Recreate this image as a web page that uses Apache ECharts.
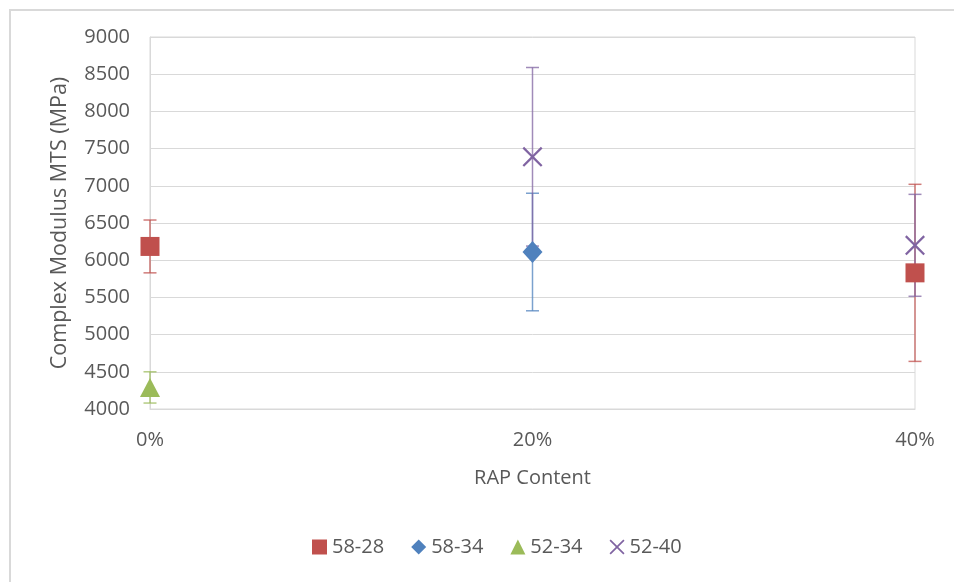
<!DOCTYPE html>
<html>
<head>
<meta charset="utf-8">
<script src="https://cdn.jsdelivr.net/npm/echarts@6/dist/echarts.min.js"></script>
<style>html,body{margin:0;padding:0;background:#fff;}#c{width:954px;height:582px;}</style>
</head>
<body>
<div id="c"></div>
<script>
const categories = ['0%', '20%', '40%'];
const yTicks = [4000, 4500, 5000, 5500, 6000, 6500, 7000, 7500, 8000, 8500, 9000];
const seriesNames = ['58-28', '58-34', '52-34', '52-40'];
const v5828 = [6185, null, 5830];
const e5828 = [355, null, 1190];
const v5834 = [null, 6110, null];
const e5834 = [null, 790, null];
const v5234 = [4290, null, null];
const e5234 = [210, null, null];
const v5240 = [null, 7390, 6200];
const e5240 = [null, 1200, 685];

const colors = ['#C0504D', '#4F81BD', '#9BBB59', '#8064A2'];
const values = [v5828, v5834, v5234, v5240];
const errors = [e5828, e5834, e5234, e5240];
const xSymbol = 'path://M1.6,0L10,8.4L18.4,0L20,1.6L11.6,10L20,18.4L18.4,20L10,11.6L1.6,20L0,18.4L8.4,10L0,1.6Z';
const symbols = ['rect', 'diamond', 'triangle', xSymbol];
const symbolSizes = [19, [20, 22], [20, 19], 20];
const FONT = 'Open Sans';
const TXT = '#595959';

const series = [];
values.forEach((vals, i) => {
  const errData = [];
  vals.forEach((v, k) => {
    if (v != null) errData.push([k, v - errors[i][k], v + errors[i][k]]);
  });
  series.push({
    type: 'custom',
    name: seriesNames[i] + ' err',
    data: errData,
    encode: { x: 0, y: [1, 2] },
    z: 2,
    silent: true,
    renderItem: function (params, api) {
      const lo = api.coord([api.value(0), api.value(1)]);
      const hi = api.coord([api.value(0), api.value(2)]);
      const hw = 6.5;
      const style = { stroke: colors[i], lineWidth: 1.5, opacity: 0.75 };
      return {
        type: 'group',
        children: [
          { type: 'line', shape: { x1: lo[0], y1: lo[1], x2: hi[0], y2: hi[1] }, style: style },
          { type: 'line', shape: { x1: lo[0] - hw, y1: lo[1], x2: lo[0] + hw, y2: lo[1] }, style: style },
          { type: 'line', shape: { x1: hi[0] - hw, y1: hi[1], x2: hi[0] + hw, y2: hi[1] }, style: style }
        ]
      };
    }
  });
});
values.forEach((vals, i) => {
  series.push({
    type: 'scatter',
    name: seriesNames[i],
    data: vals.map(v => (v == null ? '-' : v)),
    symbol: symbols[i],
    symbolSize: symbolSizes[i],
    itemStyle: { color: colors[i], opacity: 1 },
    z: 3 + i
  });
});

const chart = echarts.init(document.getElementById('c'));
chart.setOption({
  animation: false,
  backgroundColor: '#fff',
  textStyle: { fontFamily: FONT, color: TXT },
  graphic: [{
    type: 'rect',
    shape: { x: 10, y: 10, width: 1000, height: 1000 },
    style: { fill: 'none', stroke: '#d9d9d9', lineWidth: 2 },
    silent: true
  }],
  grid: { left: 150, right: 39, top: 37, bottom: 173, show: true, borderColor: '#d9d9d9', borderWidth: 1 },
  xAxis: {
    type: 'category',
    data: categories,
    boundaryGap: false,
    name: 'RAP Content',
    nameLocation: 'middle',
    nameGap: 59,
    nameTextStyle: { fontFamily: FONT, fontSize: 20, color: TXT },
    axisLine: { show: true, lineStyle: { color: '#d9d9d9' } },
    axisTick: { show: false },
    splitLine: { show: false },
    axisLabel: { fontFamily: FONT, fontSize: 20, color: TXT, margin: 21 }
  },
  yAxis: {
    type: 'value',
    min: yTicks[0],
    max: yTicks[yTicks.length - 1],
    interval: yTicks[1] - yTicks[0],
    name: 'Complex Modulus MTS (MPa)',
    nameLocation: 'middle',
    nameGap: 79,
    nameTextStyle: { fontFamily: FONT, fontSize: 21.5, color: TXT },
    axisLine: { show: true, lineStyle: { color: '#d9d9d9' } },
    axisTick: { show: false },
    splitLine: { lineStyle: { color: '#d9d9d9' } },
    axisLabel: { fontFamily: FONT, fontSize: 20, color: TXT, margin: 20, formatter: v => String(v) }
  },
  legend: {
    data: seriesNames.map((n, i) => ({ name: n, icon: symbols[i] })),
    bottom: 20,
    left: 307,
    itemWidth: 15,
    itemHeight: 15,
    itemGap: 27,
    textStyle: { fontFamily: FONT, fontSize: 20, color: TXT }
  },
  series: series
});
</script>
</body>
</html>
